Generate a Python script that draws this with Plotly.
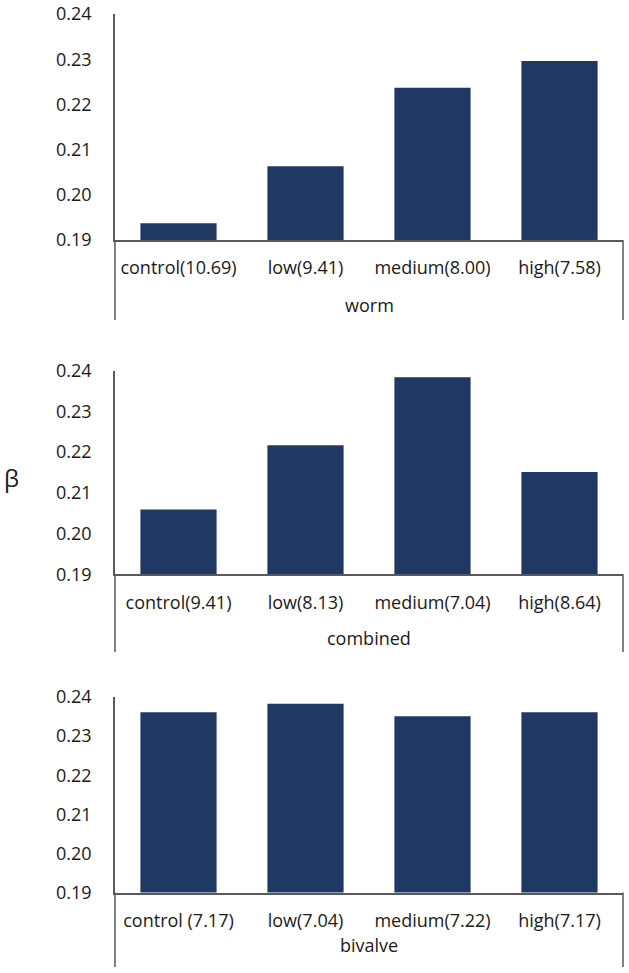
import plotly.graph_objects as go

W, H = 629, 973

cats_worm = ["control(10.69)", "low(9.41)", "medium(8.00)", "high(7.58)"]
vals_worm = [0.1937, 0.2063, 0.2237, 0.2296]

cats_comb = ["control(9.41)", "low(8.13)", "medium(7.04)", "high(8.64)"]
vals_comb = [0.2059, 0.2217, 0.2384, 0.2151]

cats_biv = ["control (7.17)", "low(7.04)", "medium(7.22)", "high(7.17)"]
vals_biv = [0.2361, 0.2383, 0.2351, 0.2361]

group_names = ["worm", "combined", "bivalve"]
y_ticks = [0.19, 0.20, 0.21, 0.22, 0.23, 0.24]
y_ticktext = ["0.19", "0.20", "0.21", "0.22", "0.23", "0.24"]

BAR = "#203864"
LINE = "#595959"
TXT = "#1a1a1a"
FONT = "Open Sans"
FS = 18

# pixel geometry of panels (top, baseline, bottom of separator lines, group label y)
panels = [
    (14, 240, 320, 305),
    (370.7, 574.3, 652, 638),
    (697, 892.5, 967, 945),
]
x0, x1 = 115 / W, 623 / W

fig = go.Figure()
data = [(cats_worm, vals_worm), (cats_comb, vals_comb), (cats_biv, vals_biv)]
shapes = []
annotations = []
for i, ((cats, vals), (top, base, bot, gy)) in enumerate(zip(data, panels)):
    n = "" if i == 0 else str(i + 1)
    fig.add_trace(go.Bar(x=cats, y=vals, marker=dict(color=BAR, line=dict(width=0)),
                         xaxis="x" + n, yaxis="y" + n, showlegend=False))
    fig.update_layout(**{
        "xaxis" + n: dict(domain=[x0, x1], anchor="y" + n, type="category",
                          showline=True, linecolor=LINE, linewidth=1.5,
                          showgrid=False, zeroline=False, ticks="outside", ticklen=0,
                          ticklabelstandoff=11, automargin=False,
                          tickfont=dict(family=FONT, size=FS, color=TXT)),
        "yaxis" + n: dict(domain=[1 - base / H, 1 - top / H], anchor="x" + n,
                          range=[0.19, 0.24], tickvals=y_ticks, ticktext=y_ticktext,
                          showline=True, linecolor=LINE, linewidth=1.5,
                          showgrid=False, zeroline=False, ticks="outside", ticklen=0,
                          ticklabelstandoff=18, automargin=False,
                          tickfont=dict(family=FONT, size=FS, color=TXT)),
    })
    xd = "x" + n + " domain"
    for xx in (0, 1):
        shapes.append(dict(type="line", xref=xd, yref="paper", x0=xx, x1=xx,
                           y0=1 - base / H, y1=1 - bot / H,
                           line=dict(color=LINE, width=1.5)))
    annotations.append(dict(text=group_names[i], xref=xd, yref="paper", x=0.5,
                            y=1 - gy / H, showarrow=False, xanchor="center", yanchor="middle",
                            font=dict(family=FONT, size=FS, color=TXT)))

annotations.append(dict(text="β", xref="paper", yref="paper", x=11 / W, y=1 - 478 / H,
                        showarrow=False, xanchor="center", yanchor="middle",
                        font=dict(family=FONT, size=24, color=TXT)))

fig.update_layout(width=W, height=H, margin=dict(l=0, r=0, t=0, b=0, autoexpand=False),
                  paper_bgcolor="white", plot_bgcolor="white",
                  bargap=0.4, shapes=shapes, annotations=annotations)

fig.write_html("out.html", config={"responsive": False, "displayModeBar": False},
               post_script="document.body.style.margin='0px';document.body.style.overflow='hidden';")
